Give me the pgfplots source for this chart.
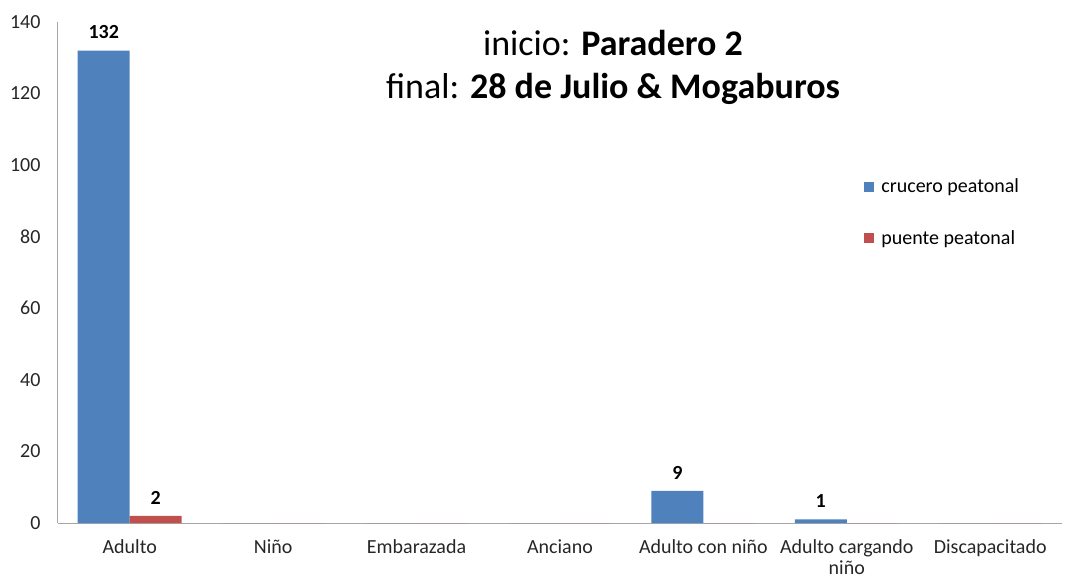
\documentclass[border=0pt]{standalone}
\usepackage{fontspec}
\setmainfont{Carlito}
\usepackage{pgfplots}
\pgfplotsset{compat=1.18}

\definecolor{crucero}{HTML}{4F81BD}
\definecolor{puente}{HTML}{C0504D}
\definecolor{ejes}{HTML}{A6A6A6}

\begin{document}
\begin{tikzpicture}[x=1pt,y=1pt]
\useasboundingbox (-58,-58) rectangle (1007,523);
\begin{axis}[
    at={(0,0)}, anchor=south west,
    scale only axis,
    width=1004pt, height=501pt,
    ybar=0pt,
    bar width=52pt,
    xmin=-0.5, xmax=6.5,
    ymin=0, ymax=140,
    ytick={0,20,...,140},
    xtick=data,
    xticklabels={Adulto,Niño,Embarazada,Anciano,Adulto con niño,{Adulto cargando\\niño},Discapacitado},
    major tick length=0pt,
    axis x line*=bottom,
    axis y line*=left,
    axis line style={ejes,-,line width=1pt},
    /pgf/number format/assume math mode=true,
    tick label style={font=\fontsize{20}{21}\selectfont, text=black!85},
    yticklabel style={xshift=-14pt},
    xticklabel style={yshift=-13pt, align=center, anchor=north},
    nodes near coords={\pgfmathfloatifflags{\pgfplotspointmeta}{0}{}{\pgfmathprintnumber{\pgfplotspointmeta}}},
    every node near coord/.append style={font=\bfseries\fontsize{20}{23}\selectfont, yshift=8pt},
    legend style={at={(0.8,0.695)}, anchor=north west, draw=none, fill=none,
        font=\fontsize{20}{23}\selectfont, row sep=32pt,
        /tikz/every odd column/.append style={column sep=5pt}},
    legend image code/.code={\fill[#1] (0pt,-5pt) rectangle (10pt,5pt);},
    legend cell align=left,
]
\addplot[fill=crucero, draw=none] coordinates {(0,132) (1,0) (2,0) (3,0) (4,9) (5,1) (6,0)};
\addplot[fill=puente, draw=none] coordinates {(0,2) (1,0) (2,0) (3,0) (4,0) (5,0) (6,0)};
\legend{crucero peatonal, puente peatonal}
\end{axis}
\node[align=center, font=\fontsize{36}{43}\selectfont, text=black] at (555,456)
    {inicio: \textbf{Paradero 2}\\final: \textbf{28 de Julio \& Mogaburos}};
\end{tikzpicture}
\end{document}
